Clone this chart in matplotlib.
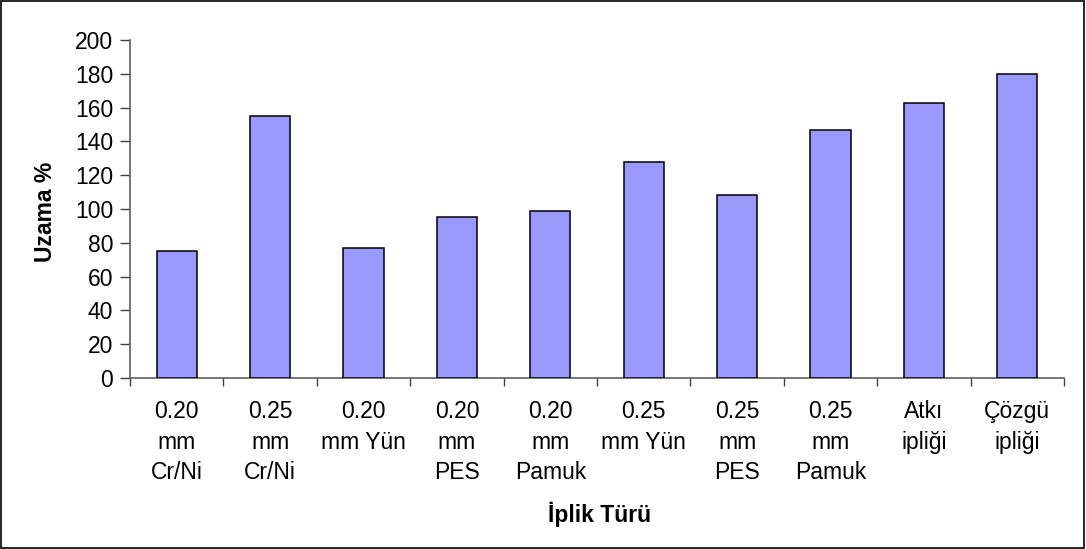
import matplotlib
matplotlib.use("Agg")
import matplotlib.pyplot as plt
from matplotlib.patches import Rectangle
import numpy as np

categories = ["0.20\nmm\nCr/Ni", "0.25\nmm\nCr/Ni", "0.20\nmm Yün", "0.20\nmm\nPES",
              "0.20\nmm\nPamuk", "0.25\nmm Yün", "0.25\nmm\nPES", "0.25\nmm\nPamuk",
              "Atkı\nipliği", "Çözgü\nipliği"]
values = [75, 155, 77, 95, 99, 128, 108, 147, 163, 180]
yticks = [0, 20, 40, 60, 80, 100, 120, 140, 160, 180, 200]

plt.rcParams['font.family'] = ['Liberation Sans', 'DejaVu Sans']
FS = 16.5

fig = plt.figure(figsize=(10.86, 5.49), dpi=100)
ax = fig.add_axes([130/1086, 1 - 378/549, (1064-130)/1086, (378-40)/549])

x = np.arange(len(categories))
ax.bar(x, values, width=0.43, color='#9999FF', edgecolor='black', linewidth=1.1, zorder=3)

ax.set_xlim(-0.5, len(categories) - 0.5)
ax.set_ylim(0, 200)
ax.set_yticks(yticks)
ax.set_xticks(x)
ax.set_xticklabels(categories, fontsize=FS, linespacing=1.42)
ax.set_xticks(np.arange(-0.5, len(categories), 1.0), minor=True)
ax.tick_params(axis='x', which='major', length=0, pad=16)
ax.tick_params(axis='x', which='minor', length=6, width=1, color='#404040', direction='out')
ax.tick_params(axis='y', which='major', length=7, width=1, color='#404040', labelsize=FS, pad=5)

for s in ['top', 'right']:
    ax.spines[s].set_visible(False)
for s in ['left', 'bottom']:
    ax.spines[s].set_color('#606060')
    ax.spines[s].set_linewidth(1.2)

fig.text(45/1086, 1 - 212/549, 'Uzama %', fontsize=FS, fontweight='bold',
         rotation=90, ha='center', va='center')
fig.text(600/1086, 1 - 514/549, 'İplik Türü', fontsize=FS, fontweight='bold',
         ha='center', va='center')

fig.patches.append(Rectangle((0.0005, 0.001), 0.998, 0.997, transform=fig.transFigure,
                             fill=False, edgecolor='black', linewidth=1.2))

fig.savefig('out.png', dpi=100)
